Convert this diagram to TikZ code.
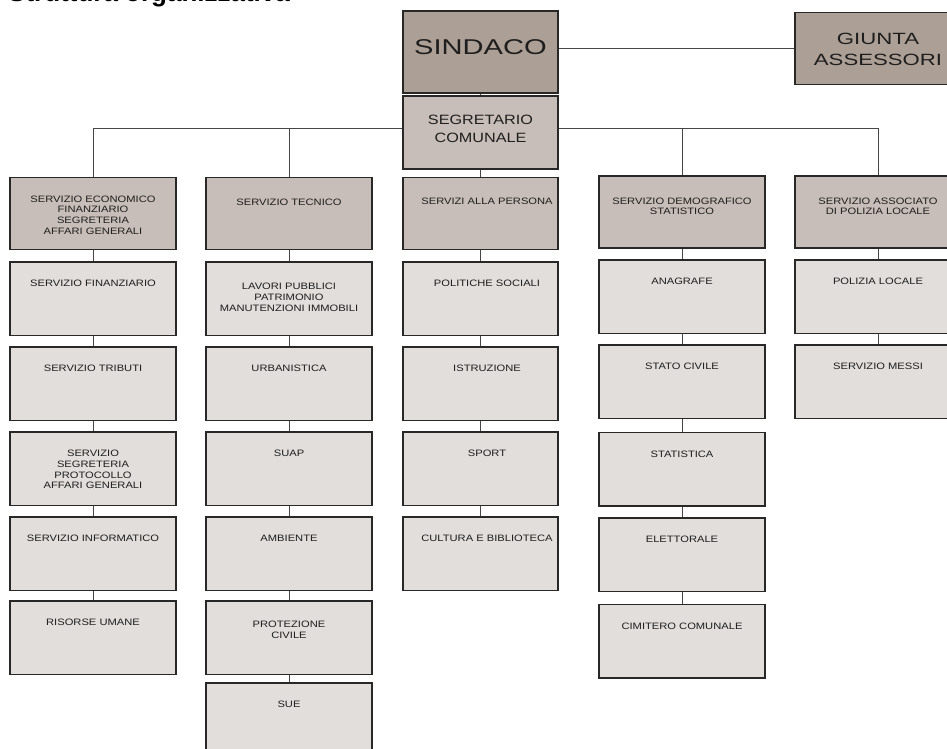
\documentclass[tikz,border=0pt]{standalone}
\usepackage{fontspec}
\setmainfont{Liberation Sans}
\newfontfamily\fsmall[FakeStretch=1.2]{Liberation Sans}
\newfontfamily\fmid[FakeStretch=1.2]{Liberation Sans}
\newfontfamily\fbig[FakeStretch=1.36]{Liberation Sans}
\newfontfamily\ftitle{Liberation Sans Bold}
\usetikzlibrary{backgrounds}
\definecolor{bossfill}{RGB}{172,159,149}
\definecolor{headfill}{RGB}{200,190,185}
\definecolor{kidfill}{RGB}{226,222,219}
\definecolor{border}{RGB}{40,40,40}
\definecolor{connc}{RGB}{70,70,70}
\definecolor{txt}{RGB}{30,30,30}
\tikzset{
  boxbase/.style={rectangle, draw=border, line width=1.2pt, inner sep=0pt, minimum width=166pt},
  midw/.style={minimum width=155pt},
  boss/.style={boxbase, fill=bossfill},
  headbox/.style={boxbase, fill=headfill, minimum height=72pt},
  kid/.style={boxbase, fill=kidfill, minimum height=73.5pt},
  lbl/.style={anchor=north, yshift=-18.6pt, inner sep=0pt, align=center, text=txt,
    font=\fsmall\fontsize{9.3}{10.7}\selectfont},
  lblm/.style={lbl, xshift=6.5pt},
  conn/.style={draw=connc, line width=1pt},
}
\begin{document}
\begin{tikzpicture}[x=1pt, y=-1pt]
\useasboundingbox (0,0) rectangle (947,749);
% title (cut at the top edge)
\node[anchor=base west, inner sep=0pt, font=\ftitle\fontsize{26}{30}\selectfont, text=black] (title) at (8,1.5) {Struttura organizzativa};
% top level
\node[boss, midw, minimum height=82pt, label={[lbl, yshift=-10.7pt, font=\fbig\fontsize{21.4}{24}\selectfont]north:SINDACO}] (sindaco) at (480.5,52) {};
\node[boss, minimum height=72pt, label={[lbl, yshift=-2.4pt, font=\fbig\fontsize{16.3}{21.4}\selectfont]north:{GIUNTA\\ASSESSORI}}] (giunta) at (878,48.2) {};
\node[boss, midw, fill=headfill, minimum height=73pt, label={[lbl, yshift=-0.6pt, font=\fmid\fontsize{13.5}{18}\selectfont]north:{SEGRETARIO\\COMUNALE}}] (segr) at (480.5,132.5) {};
% heads
\node[headbox, label={[lbl]north:{SERVIZIO ECONOMICO\\FINANZIARIO\\SEGRETERIA\\AFFARI GENERALI}}] (h1) at (93,213.5) {};
\node[headbox, label={[lbl, yshift=-3pt]north:SERVIZIO TECNICO}] (h2) at (289,213.5) {};
\node[headbox, midw, label={[lblm, yshift=-2pt]north:SERVIZI ALLA PERSONA}] (h3) at (480.5,213.5) {};
\node[headbox, label={[lbl, yshift=-3.5pt]north:{SERVIZIO DEMOGRAFICO\\STATISTICO}}] (h4) at (682,212) {};
\node[headbox, label={[lbl, yshift=-3.5pt]north:{SERVIZIO ASSOCIATO\\DI POLIZIA LOCALE}}] (h5) at (878,212) {};
% column 1
\node[kid, label={[lbl]north:SERVIZIO FINANZIARIO}] (a1) at (93,298.75) {};
\node[kid, label={[lbl]north:SERVIZIO TRIBUTI}] (a2) at (93,383.75) {};
\node[kid, label={[lbl]north:{SERVIZIO\\SEGRETERIA\\PROTOCOLLO\\AFFARI GENERALI}}] (a3) at (93,468.75) {};
\node[kid, label={[lbl]north:SERVIZIO INFORMATICO}] (a4) at (93,553.75) {};
\node[kid, label={[lbl]north:RISORSE UMANE}] (a5) at (93,637.75) {};
% column 2
\node[kid, label={[lbl, yshift=-3pt]north:{LAVORI PUBBLICI\\PATRIMONIO\\MANUTENZIONI IMMOBILI}}] (b1) at (289,298.75) {};
\node[kid, label={[lbl]north:URBANISTICA}] (b2) at (289,383.75) {};
\node[kid, label={[lbl]north:SUAP}] (b3) at (289,468.75) {};
\node[kid, label={[lbl]north:AMBIENTE}] (b4) at (289,553.75) {};
\node[kid, label={[lbl, yshift=-2pt]north:{PROTEZIONE\\CIVILE}}] (b5) at (289,637.75) {};
\node[kid, label={[lbl]north:SUE}] (b6) at (289,719.75) {};
% column 3
\node[kid, midw, label={[lblm]north:POLITICHE SOCIALI}] (c1) at (480.5,298.75) {};
\node[kid, midw, label={[lblm]north:ISTRUZIONE}] (c2) at (480.5,383.75) {};
\node[kid, midw, label={[lblm]north:SPORT}] (c3) at (480.5,468.75) {};
\node[kid, midw, label={[lblm]north:CULTURA E BIBLIOTECA}] (c4) at (480.5,553.75) {};
% column 4
\node[kid, label={[lbl]north:ANAGRAFE}] (d1) at (682,296.75) {};
\node[kid, label={[lbl]north:STATO CIVILE}] (d2) at (682,381.75) {};
\node[kid, label={[lbl]north:STATISTICA}] (d3) at (682,469.25) {};
\node[kid, label={[lbl]north:ELETTORALE}] (d4) at (682,554.75) {};
\node[kid, label={[lbl]north:CIMITERO COMUNALE}] (d5) at (682,641.25) {};
% column 5
\node[kid, label={[lbl]north:POLIZIA LOCALE}] (e1) at (878,296.75) {};
\node[kid, label={[lbl]north:SERVIZIO MESSI}] (e2) at (878,381.75) {};
% connectors
\coordinate (busy) at (0,129);
\begin{pgfonlayer}{background}
\draw[conn] (sindaco.east |- giunta.west) -- (giunta.west);
\draw[conn] (sindaco.south) -- (segr.north);
\draw[conn] (h1.north) -- (h1.north |- busy) -- (h5.north |- busy) -- (h5.north);
\draw[conn] (h2.north) -- (h2.north |- busy);
\draw[conn] (h4.north) -- (h4.north |- busy);
\draw[conn] (segr.south) -- (h3.north);
\draw[conn] (h1) -- (a1) -- (a2) -- (a3) -- (a4) -- (a5);
\draw[conn] (h2) -- (b1) -- (b2) -- (b3) -- (b4) -- (b5) -- (b6);
\draw[conn] (h3) -- (c1) -- (c2) -- (c3) -- (c4);
\draw[conn] (h4) -- (d1) -- (d2) -- (d3) -- (d4) -- (d5);
\draw[conn] (h5) -- (e1) -- (e2);
\end{pgfonlayer}
\end{tikzpicture}
\end{document}
